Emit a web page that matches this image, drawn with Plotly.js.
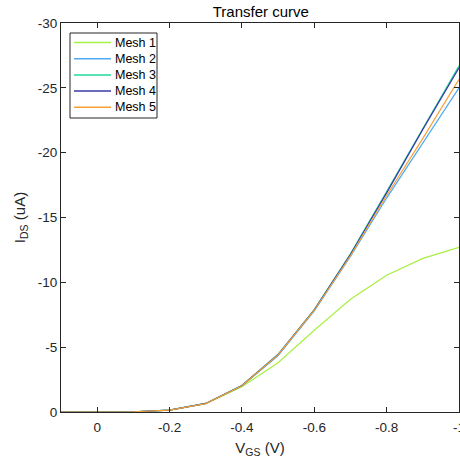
<!DOCTYPE html>
<html>
<head>
<meta charset="utf-8">
<script src="https://cdn.plot.ly/plotly-3.0.1.min.js"></script>
<style>html,body{margin:0;padding:0;background:#fff;}#chart{width:460px;height:460px;}</style>
</head>
<body>
<div id="chart"></div>
<script>
const vgs = [0.1, 0, -0.1, -0.2, -0.3, -0.4, -0.5, -0.6, -0.7, -0.8, -0.9, -1.0];
const mesh1 = [0, 0, -0.02, -0.15, -0.65, -1.95, -3.8, -6.3, -8.7, -10.55, -11.85, -12.7];
const mesh2 = [0, 0, -0.02, -0.15, -0.65, -2.0, -4.35, -7.8, -12.0, -16.5, -20.8, -25.0];
const mesh3 = [0, 0, -0.02, -0.15, -0.66, -2.05, -4.45, -7.9, -12.2, -17.0, -21.9, -26.7];
const mesh4 = [0, 0, -0.02, -0.15, -0.66, -2.05, -4.42, -7.88, -12.15, -16.9, -21.8, -26.55];
const mesh5 = [0, 0, -0.02, -0.15, -0.65, -2.02, -4.4, -7.85, -12.05, -16.7, -21.1, -25.65];
const seriesNames = ["Mesh 1", "Mesh 2", "Mesh 3", "Mesh 4", "Mesh 5"];
const seriesColors = ["#a8f043", "#4daaf5", "#22d99a", "#3a3aa8", "#f7a035"];
const xTickVals = [0, -0.2, -0.4, -0.6, -0.8, -1];
const xTickText = ["0", "-0.2", "-0.4", "-0.6", "-0.8", "-1"];
const yTickVals = [0, -5, -10, -15, -20, -25, -30];
const yTickText = ["0", "-5", "-10", "-15", "-20", "-25", "-30"];

const allSeries = [mesh1, mesh2, mesh3, mesh4, mesh5];
const traces = allSeries.map((ys, i) => ({
  x: vgs, y: ys, type: "scatter", mode: "lines", name: seriesNames[i],
  line: {color: seriesColors[i], width: 1.2}
}));

const FONT = "Liberation Sans, Arial, sans-serif";
const axisCommon = {
  showline: true, mirror: "ticks", ticks: "inside", ticklen: 5, tickwidth: 1,
  linecolor: "#262626", tickcolor: "#262626", linewidth: 1,
  showgrid: false, zeroline: false, ticklabeloverflow: "allow",
  tickfont: {family: FONT, size: 13.5, color: "#262626"}
};

// Legend box drawn as layout decoration (paper coordinates)
const plotL = 61, plotW = 398, plotB = 412, plotH = 389;
const px2x = p => (p - plotL) / plotW;
const py2y = p => (plotB - p) / plotH;
const shapes = [{
  type: "rect", xref: "paper", yref: "paper",
  x0: px2x(70), x1: px2x(157), y0: py2y(118), y1: py2y(33),
  line: {color: "#262626", width: 1}, fillcolor: "#fff", layer: "above"
}];
const annotations = [];
seriesNames.forEach((nm, i) => {
  const yc = py2y(42.5 + 16.2 * i);
  shapes.push({type: "line", xref: "paper", yref: "paper", x0: px2x(74), x1: px2x(111), y0: yc, y1: yc,
    line: {color: seriesColors[i], width: 1.5}, layer: "above"});
  annotations.push({xref: "paper", yref: "paper", x: px2x(113), y: yc, xanchor: "left", yanchor: "middle",
    text: nm, showarrow: false, font: {family: FONT, size: 12.5, color: "#000"}});
});

const layout = {
  width: 460, height: 460,
  margin: {l: 61, r: 1, t: 23, b: 48},
  paper_bgcolor: "#fff", plot_bgcolor: "#fff",
  font: {family: FONT, color: "#262626"},
  title: {text: "Transfer curve", font: {family: FONT, size: 15, color: "#000"}, x: 0.567, xanchor: "center", y: 0.986, yanchor: "top"},
  xaxis: Object.assign({}, axisCommon, {
    range: [0.1, -1], tickvals: xTickVals, ticktext: xTickText, ticklabelstandoff: 3,
    title: {text: "V<sub>GS</sub> (V)", font: {family: FONT, size: 15, color: "#262626"}, standoff: 8}
  }),
  yaxis: Object.assign({}, axisCommon, {
    range: [0, -30], tickvals: yTickVals, ticktext: yTickText,
    title: {text: "I<sub>DS</sub> (uA)", font: {family: FONT, size: 15, color: "#262626"}, standoff: 8}
  }),
  showlegend: false,
  shapes: shapes,
  annotations: annotations
};

Plotly.newPlot("chart", traces, layout, {staticPlot: true, displayModeBar: false});
</script>
</body>
</html>
